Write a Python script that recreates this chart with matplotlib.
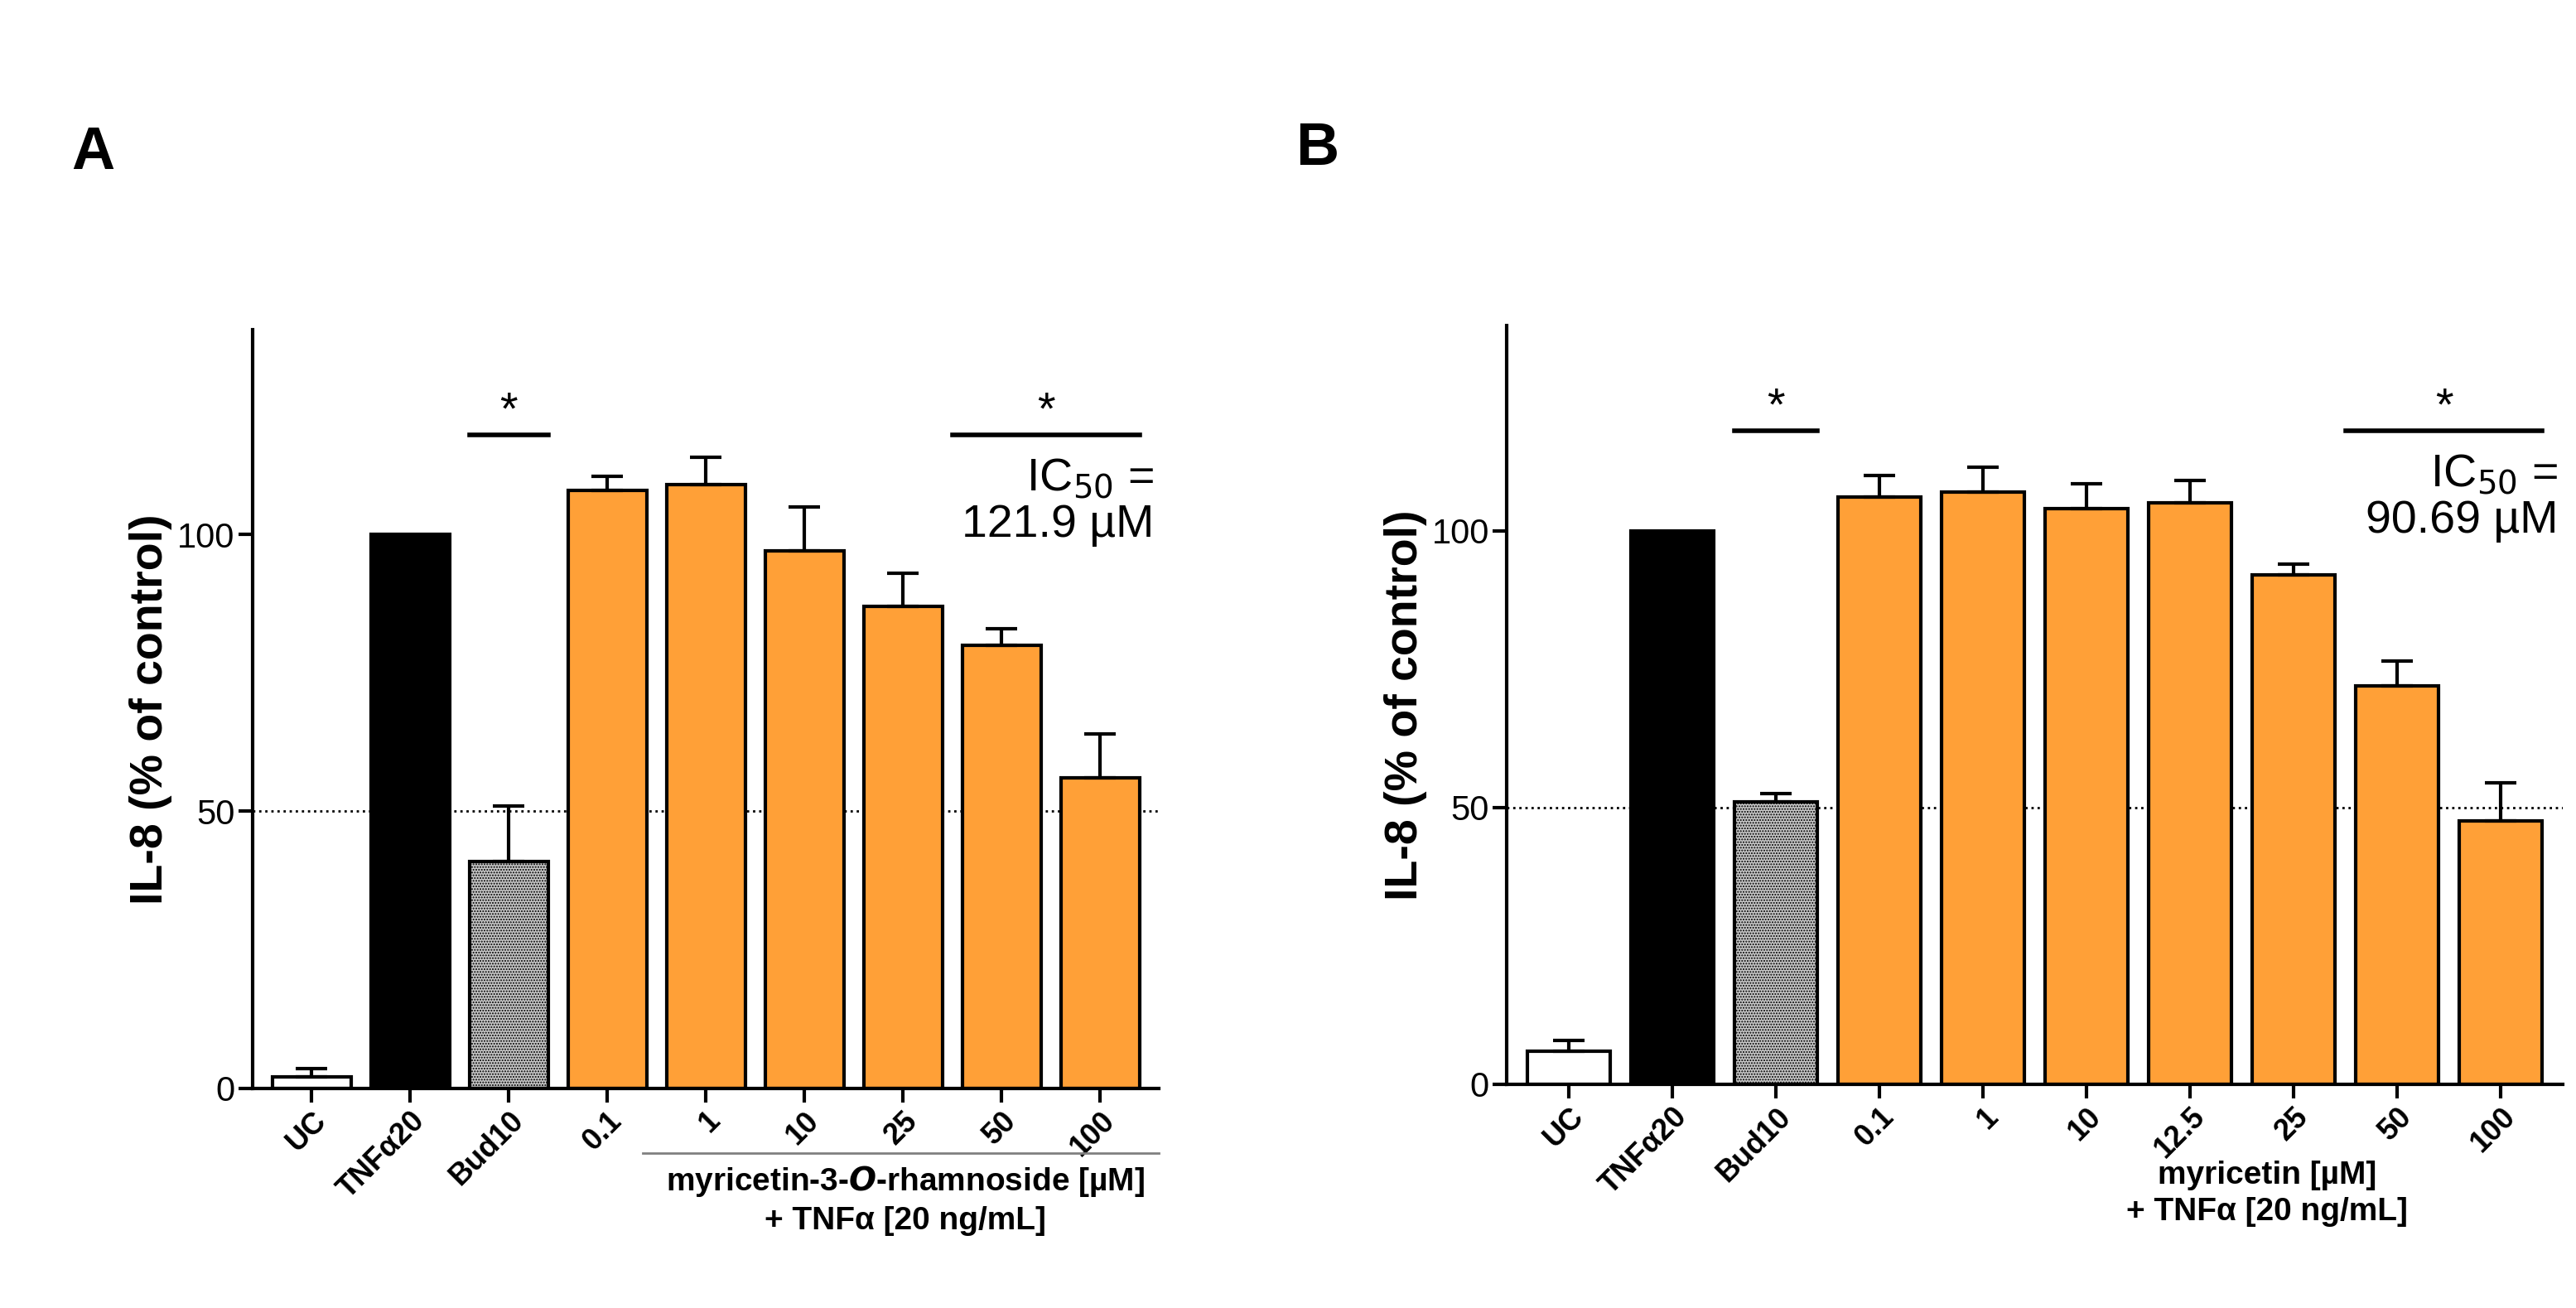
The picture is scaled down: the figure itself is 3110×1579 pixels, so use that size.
import matplotlib
matplotlib.use("Agg")
import matplotlib.pyplot as plt

plt.rcParams['font.family'] = ['Liberation Sans', 'DejaVu Sans']

cats_a = ["UC", "TNFα20", "Bud10", "0.1", "1", "10", "25", "50", "100"]
vals_a = [2, 100, 41, 108, 109, 97, 87, 80, 56]
errs_a = [1.5, 0, 10, 2.5, 5, 8, 6, 3, 8]
cats_b = ["UC", "TNFα20", "Bud10", "0.1", "1", "10", "12.5", "25", "50", "100"]
vals_b = [6, 100, 51, 106, 107, 104, 105, 92, 72, 47.5]
errs_b = [2, 0, 1.5, 4, 4.5, 4.5, 4, 2, 4.5, 7]

ORANGE = "#FFA037"

fig = plt.figure(figsize=(31.10, 15.79), dpi=100)

def panel(rect, cats, vals, errs, ic50, sigL, sigR, letter, xlab, underline):
    ax = fig.add_axes(rect)
    x = list(range(len(cats)))
    colors = ["white", "black", "#c8c8c8"] + [ORANGE] * (len(cats) - 3)
    hatches = ["", "", "....."] + [""] * (len(cats) - 3)
    for i in x:
        ax.bar(i, vals[i], width=0.8, color=colors[i], edgecolor="black",
               linewidth=3, hatch=hatches[i], zorder=2)
        if errs[i] > 0:
            ax.errorbar(i, vals[i], yerr=[[0], [errs[i]]], color="black",
                        capsize=14, capthick=3, elinewidth=3, zorder=3)
    ax.axhline(50, color="black", linestyle=":", linewidth=2, zorder=1)
    ax.set_xlim(-0.6, len(cats) - 0.4)
    ax.set_ylim(0, 137)
    ax.set_yticks([0, 50, 100])
    ax.tick_params(axis="y", labelsize=30, width=3, length=12)
    ax.tick_params(axis="x", width=3, length=12)
    ax.set_xticks(x)
    ax.set_xticklabels(cats, rotation=45, ha="right", rotation_mode="anchor",
                       fontsize=26, fontweight="bold")
    for s in ["top", "right"]:
        ax.spines[s].set_visible(False)
    ax.spines["left"].set_linewidth(3)
    ax.spines["bottom"].set_linewidth(3)
    ax.set_ylabel("IL-8 (% of control)", fontsize=40, fontweight="bold")
    ax.plot([1.6, 2.4], [118, 118], color="black", lw=4, clip_on=False)
    ax.text(2, 120, "*", ha="center", fontsize=40)
    ax.plot([sigL - 0.5, sigR + 0.4], [118, 118], color="black", lw=4, clip_on=False)
    ax.text((sigL - 0.5 + sigR + 0.4) / 2, 120, "*", ha="center", fontsize=40)
    ax.text(len(cats) - 0.45, 114, "IC$_{50}$ =\n" + ic50, ha="right", va="top",
            fontsize=40, linespacing=1.1)
    ax.text(-0.2, 1.27, letter, transform=ax.transAxes, fontsize=52,
            fontweight="bold", va="top")
    ax.text(0.72, -0.1, xlab, transform=ax.transAxes, ha="center", va="top",
            fontsize=28, fontweight="bold", linespacing=1.3)
    if underline:
        ax.plot([0.43, 1.0], [-0.085, -0.085], transform=ax.transAxes,
                color="gray", lw=2, clip_on=False)
    return ax

panel([0.098, 0.168, 0.352, 0.58], cats_a, vals_a, errs_a, "121.9 µM", 7, 8, "A",
      "myricetin-3-$\\mathbfit{O}$-rhamnoside [µM]\n+ TNFα [20 ng/mL]", True)
panel([0.585, 0.171, 0.41, 0.58], cats_b, vals_b, errs_b, "90.69 µM", 8, 9, "B",
      "myricetin [µM]\n+ TNFα [20 ng/mL]", False)

fig.savefig("out.png", dpi=100)
